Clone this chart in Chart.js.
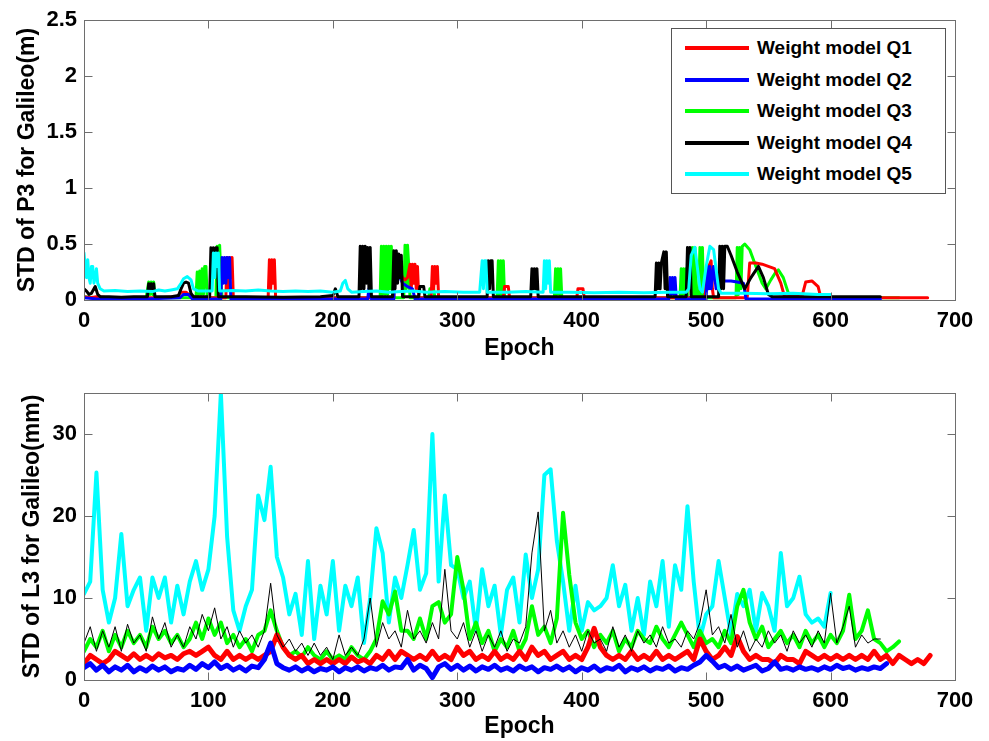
<!DOCTYPE html>
<html><head><meta charset="utf-8">
<script src="https://cdn.jsdelivr.net/npm/chart.js@4.4.1/dist/chart.umd.min.js"></script>
<style>
html,body{margin:0;padding:0;background:#fff;width:989px;height:741px;overflow:hidden;}
.wrap{position:absolute;left:0;}
#legend{position:absolute;left:671px;top:28px;width:273px;height:164px;border:1px solid #555;background:#fff;font:bold 19px "Liberation Sans",Arial,sans-serif;color:#000;}
.lrow{position:absolute;left:0;width:273px;height:24px;}
.lline{position:absolute;left:13px;top:10px;width:64px;height:4px;}
.ltext{position:absolute;left:85px;top:0;line-height:24px;white-space:nowrap;}
</style></head>
<body>
<div class="wrap" style="top:0"><canvas id="c1" width="989" height="360"></canvas></div>
<div class="wrap" style="top:360px"><canvas id="c2" width="989" height="381"></canvas></div>
<div id="legend"></div>
<script>
// ---------- data ----------
const seriesNames = ['Weight model Q1','Weight model Q2','Weight model Q3','Weight model Q4','Weight model Q5'];
const seriesColors = ['#ff0000','#0000ff','#00ff00','#000000','#00ffff'];
const xTicks = [0,100,200,300,400,500,600,700];
const p3Ticks = [0,0.5,1,1.5,2,2.5];
const l3Ticks = [0,10,20,30];
const epochStep = 5;

// Top panel: STD of P3 (m), [epoch, value] pairs
const p3Q1 = [[0,0.03],[5,0.02],[10,0.03],[20,0.02],[40,0.02],[60,0.02],[75,0.03],[78,0.07],[82,0.07],[86,0.03],[100,0.02],[114,0.02],[115,0.38],[116,0.1],[117,0.38],[118,0.2],[119,0.38],[120,0.02],[148,0.02],[149,0.36],[150,0.1],[151,0.36],[152,0.15],[153,0.36],[154,0.02],[200,0.02],[249,0.02],[250,0.36],[252,0.3],[254,0.25],[256,0.2],[258,0.18],[260,0.2],[262,0.32],[263,0.1],[264,0.32],[265,0.15],[266,0.32],[267,0.1],[268,0.3],[269,0.02],[279,0.02],[280,0.3],[281,0.1],[282,0.3],[283,0.15],[284,0.3],[285,0.02],[337,0.02],[338,0.12],[341,0.12],[342,0.02],[396,0.02],[397,0.1],[401,0.1],[402,0.02],[499,0.02],[500,0.15],[502,0.3],[504,0.35],[505,0.1],[506,0.02],[533,0.02],[535,0.33],[540,0.33],[545,0.32],[550,0.3],[555,0.28],[560,0.15],[563,0.03],[577,0.03],[580,0.16],[585,0.17],[590,0.12],[592,0.03],[600,0.02],[640,0.02],[660,0.02],[678,0.02]];
const p3Q2 = [[0,0.02],[10,0.01],[50,0.01],[77,0.02],[80,0.05],[84,0.05],[87,0.01],[110,0.01],[111,0.38],[112,0.15],[113,0.38],[114,0.15],[115,0.38],[116,0.2],[117,0.38],[118,0.01],[228,0.01],[229,0.1],[231,0.01],[249,0.01],[250,0.37],[252,0.3],[254,0.2],[256,0.15],[260,0.12],[264,0.1],[266,0.01],[470,0.01],[471,0.2],[472,0.05],[473,0.2],[474,0.05],[475,0.2],[476,0.01],[500,0.01],[501,0.3],[502,0.1],[503,0.3],[504,0.1],[506,0.3],[508,0.1],[512,0.17],[516,0.17],[520,0.17],[525,0.16],[530,0.15],[532,0.01],[640,0.01]];
const p3Q3 = [[0,0.03],[10,0.02],[50,0.02],[52,0.16],[53,0.05],[54,0.16],[55,0.05],[56,0.16],[57,0.02],[90,0.02],[91,0.25],[92,0.05],[93,0.26],[94,0.05],[95,0.28],[96,0.05],[97,0.3],[98,0.3],[99,0.02],[106,0.02],[107,0.48],[108,0.1],[109,0.49],[110,0.2],[111,0.02],[238,0.02],[239,0.48],[240,0.05],[241,0.48],[242,0.05],[243,0.48],[244,0.05],[245,0.48],[246,0.1],[247,0.48],[248,0.02],[257,0.02],[258,0.49],[259,0.1],[260,0.49],[261,0.3],[262,0.02],[277,0.02],[278,0.1],[281,0.1],[282,0.02],[332,0.02],[333,0.35],[334,0.05],[335,0.35],[336,0.05],[337,0.35],[338,0.02],[378,0.02],[379,0.28],[380,0.05],[381,0.28],[382,0.05],[383,0.28],[384,0.02],[479,0.02],[480,0.28],[481,0.05],[482,0.28],[483,0.05],[484,0.28],[485,0.02],[488,0.02],[489,0.47],[490,0.05],[491,0.47],[492,0.02],[494,0.02],[495,0.47],[496,0.05],[497,0.47],[498,0.02],[524,0.02],[525,0.47],[526,0.05],[527,0.47],[528,0.1],[529,0.48],[531,0.5],[535,0.45],[540,0.3],[545,0.15],[548,0.1],[552,0.18],[556,0.25],[558,0.27],[562,0.2],[567,0.03],[600,0.02],[655,0.02]];
const p3Q4 = [[0,0.1],[2,0.08],[4,0.05],[6,0.06],[8,0.1],[9,0.12],[11,0.05],[13,0.03],[20,0.03],[30,0.025],[40,0.03],[51,0.03],[52,0.146],[53,0.1],[54,0.146],[55,0.1],[56,0.146],[57,0.03],[70,0.03],[76,0.04],[78,0.1],[80,0.15],[82,0.16],[84,0.15],[86,0.06],[88,0.03],[101,0.03],[102,0.466],[103,0.2],[104,0.466],[105,0.3],[106,0.466],[107,0.466],[108,0.03],[130,0.03],[160,0.025],[190,0.03],[200,0.04],[202,0.1],[204,0.03],[221,0.03],[222,0.48],[223,0.1],[224,0.48],[225,0.1],[226,0.48],[227,0.15],[228,0.47],[229,0.1],[230,0.47],[231,0.03],[248,0.03],[249,0.44],[250,0.1],[251,0.44],[252,0.15],[253,0.41],[254,0.2],[255,0.4],[256,0.03],[269,0.03],[270,0.12],[273,0.12],[274,0.03],[324,0.03],[325,0.35],[326,0.1],[327,0.35],[328,0.35],[329,0.03],[359,0.03],[360,0.28],[361,0.1],[362,0.28],[363,0.1],[364,0.28],[365,0.03],[400,0.03],[440,0.03],[459,0.03],[460,0.33],[461,0.1],[462,0.33],[463,0.1],[464,0.33],[466,0.43],[467,0.1],[468,0.43],[469,0.03],[484,0.03],[485,0.47],[486,0.1],[487,0.47],[488,0.03],[510,0.03],[511,0.48],[512,0.1],[513,0.48],[514,0.1],[515,0.48],[517,0.48],[520,0.4],[525,0.25],[531,0.1],[536,0.2],[542,0.3],[546,0.2],[550,0.05],[553,0.03],[600,0.03],[640,0.03]];
const p3Q5 = [[0,0.42],[1,0.3],[2,0.2],[3,0.36],[4,0.2],[5,0.15],[6,0.3],[7,0.3],[8,0.15],[9,0.2],[10,0.28],[11,0.15],[13,0.1],[16,0.08],[25,0.085],[35,0.075],[45,0.08],[55,0.075],[60,0.09],[65,0.08],[70,0.09],[75,0.1],[78,0.15],[80,0.19],[83,0.21],[86,0.18],[88,0.1],[92,0.08],[100,0.08],[103,0.08],[104,0.42],[105,0.2],[106,0.42],[107,0.3],[108,0.42],[109,0.08],[120,0.085],[130,0.08],[140,0.09],[150,0.08],[160,0.075],[170,0.08],[180,0.075],[190,0.08],[200,0.07],[206,0.08],[208,0.15],[210,0.175],[212,0.1],[215,0.07],[225,0.075],[235,0.08],[245,0.07],[255,0.075],[265,0.08],[275,0.07],[290,0.075],[305,0.07],[318,0.07],[320,0.35],[321,0.1],[322,0.35],[323,0.35],[324,0.07],[340,0.07],[355,0.075],[369,0.07],[370,0.35],[371,0.1],[372,0.35],[373,0.15],[374,0.35],[375,0.07],[390,0.07],[410,0.065],[430,0.07],[450,0.065],[470,0.07],[484,0.07],[486,0.1],[488,0.4],[491,0.47],[495,0.1],[497,0.07],[500,0.3],[503,0.48],[506,0.45],[510,0.1],[512,0.06],[530,0.06],[550,0.055],[570,0.06],[590,0.05],[600,0.05]];

// Bottom panel: STD of L3 (mm), one value every epochStep epochs starting at 0
const l3Q1 = [2,3,2.5,2,2.5,3.5,3,2.5,3.2,2.5,
 3,2.5,3.2,2.7,3,2.5,3.2,3.5,3,3.5,
 4,3,2.5,3.5,2.5,3,2.5,3,2.5,3,
 3.5,5.5,4,3,2.5,3,2,2.5,2,2.5,
 2,2.5,2,2.8,2.2,2.5,2,3,2.5,3.5,
 2.5,3.5,3,2.5,3,2.5,3.5,2.5,3,2.5,
 4,3,3.5,2.5,3,2.5,3.5,2.5,3,2.5,
 3.5,2.5,4,3,3.5,2.5,3,3.5,2.5,3,
 2.5,4,6.3,4,3,2.5,3,2.5,3.5,2.5,
 3,2.5,3.5,2.5,3,2.5,3,3.5,2.5,5,
 3.5,2.5,3,4,3,5.3,3.5,2.5,3,2.5,
 2.5,2,3,2.5,2.5,2,3.5,3,2.5,3,
 2.5,3,2.5,3,2.5,3,2.5,3.5,2.5,3,
 2,3,2.5,2,2.5,2,3];
const l3Q2 = [1.5,2,1.2,1.8,1,1.6,1.2,1.8,1,1.5,
 1.1,1.7,1.2,1.6,1,1.4,1.2,1.8,1.3,2,
 1.5,2.2,1.4,1.8,1.2,1.6,1.1,1.7,1.5,2.5,
 4.5,2,1.5,1.2,1.6,1.1,1.5,1,1.4,1.2,
 1.6,1,1.5,1.2,1.6,1.1,1.5,1.3,1.8,1.2,
 1.6,1.5,2.5,1.2,1.8,1.4,0.3,1.6,2,1.3,
 1.8,1.2,1.7,1.1,1.6,1.3,1.8,1.2,1.5,1.1,
 1.7,1.3,1.6,1,1.5,1.3,1.7,1.2,1.6,1,
 1.5,1.2,1.7,1.1,1.5,1.3,1.8,1,1.5,1.2,
 1.6,1.1,1.5,1.3,1.7,1.1,1.5,1.3,1.8,2.2,
 3,2.3,1.5,1.8,1.3,1.7,1.2,1.5,1.8,1.1,
 1.4,2.2,1.3,1.5,1.2,1.6,1.3,1.5,1.2,1.6,
 1.3,1.8,1.4,1.6,1.2,1.5,1.3,1.6,1.4,2];
const l3Q3 = [3.5,5,4,6,3.5,5.5,4,6,4.5,5.5,
 4,6.5,5,6,4.5,5.5,4,5,7,5,
 7.5,5.5,7,4.5,5.5,4,5,3.5,5.5,6,
 8.5,6,4,3,3.5,2.8,4,3,2.5,3.5,
 2.5,3,2.5,4,3,2.5,3.5,5,9.6,8,
 10.8,6,6,5,7.5,5,9,9.5,7,8,
 15,11,5,7,4.5,6,3.5,5,4,6,
 3.5,5,9,5.5,6.5,4.5,7.5,20.4,12.8,7,
 5,6,4,5.5,4.5,6,3.5,5,4,6,
 5,4.5,6.5,5,4,5.5,7,5.5,4,6,
 4.5,5,4,6,4.5,9,11,7,5,6.5,
 4,5,6,4.5,5.5,4,6,4.5,5.5,4,
 5.5,4.5,6,10.4,5,6,8.5,5,4.5,3.5,
 4,4.7];
const l3Q4 = [4.5,6.5,3.5,6,4,6.5,3.5,6.8,4.5,5.5,
 3.5,7.7,5,7,4,5.5,4,6.5,5,8,
 6,8.8,5,6.5,4,6,4.5,5.5,4,6,
 11.8,5.5,4,5,3.5,4.5,3,4.5,3,4,
 2.5,5.5,3,4,3,5,10,4,7,5,
 6,4,8.5,5,6,4.5,7,5,13.5,6,
 5,7,4,6,3.5,5.5,4,6,3.5,5,
 4.5,6.5,15.5,20.5,6,8.5,4.5,6,4,5.5,
 3.5,6,4.5,5,3.5,6.5,4,5.5,3.5,6,
 4.5,5.5,4,6.5,4.5,5,4,6,5,7,
 11,5.5,6.5,4.5,8,4,6,3.5,5,4,
 6,4.5,5.5,3.5,6,4.5,5.5,4,6,4.5,
 10.6,4.5,6.5,9,4,5.5,4.5,5,5];
const l3Q5 = [10.5,12,25.3,11,7,10,17.8,9,11,12.5,
 6,12.5,10,12.5,7,11.5,8,12,14.5,11,
 13.5,20,35,17.5,8.5,6,9,11,22.5,19.5,
 26,15,12.5,8,10.5,5.5,14.5,5,11.5,8,
 14.5,6,11.5,9,12.5,4.5,10,18.5,15.5,7,
 12.5,10,14,18.3,11,13,30,12,22.5,14,
 13.5,10,12,6,13.5,9,11.5,5.5,11,12.5,
 7,15.3,10,13.5,25,25.7,17,12,6,11.5,
 6,9.5,8.5,9,10,14,9,11.6,6,10,
 5.5,12,9,14.5,6.5,14,11,21.2,12,5,
 8,9,14.5,10,5.5,10.5,9,11,6,10.6,
 9,6,15.5,9,10,12.6,8,7,7.5,6.5,
 10.6];

// ---------- drawing ----------
const FONT = '"Liberation Sans", Arial, Helvetica, sans-serif';

const framePlugin = {
  id: 'frame',
  afterDatasetsDraw(chart) {
    const {ctx, chartArea: a} = chart;
    const x = chart.scales.x, y = chart.scales.y;
    ctx.save();
    ctx.strokeStyle = '#6e6e6e';
    ctx.lineWidth = 1;
    const l = Math.round(a.left) + 0.5, r = Math.round(a.right) + 0.5;
    const t = Math.round(a.top) + 0.5, b = Math.round(a.bottom) + 0.5;
    ctx.strokeRect(l, t, r - l, b - t);
    const L = 8;
    ctx.beginPath();
    x.ticks.forEach(tk => {
      const px = Math.round(x.getPixelForValue(tk.value)) + 0.5;
      if (px <= l + 1 || px >= r - 1) return;
      ctx.moveTo(px, b); ctx.lineTo(px, b - L);
      ctx.moveTo(px, t); ctx.lineTo(px, t + L);
    });
    y.ticks.forEach(tk => {
      const py = Math.round(y.getPixelForValue(tk.value)) + 0.5;
      if (py <= t + 1 || py >= b - 1) return;
      ctx.moveTo(l, py); ctx.lineTo(l + L, py);
      ctx.moveTo(r, py); ctx.lineTo(r - L, py);
    });
    ctx.stroke();
    ctx.restore();
  }
};

function makeOptions(cfg) {
  return {
    responsive: false,
    animation: false,
    events: [],
    layout: {padding: {top: cfg.padTop, right: 34, left: 0, bottom: 0}},
    plugins: {legend: {display: false}, tooltip: {enabled: false}},
    elements: {point: {radius: 0}, line: {tension: 0, borderJoinStyle: 'round', borderCapStyle: 'round'}},
    scales: {
      x: {
        type: 'linear', min: 0, max: 700,
        afterBuildTicks: s => { s.ticks = xTicks.map(v => ({value: v})); },
        afterFit: s => { s.height = cfg.xAxisH; },
        grid: {display: false, drawTicks: false},
        border: {display: false},
        ticks: {padding: 8, color: '#000', font: {family: FONT, size: 22, weight: 'bold'}, maxRotation: 0, callback: v => String(v)},
        title: {display: true, text: 'Epoch', color: '#000', font: {family: FONT, size: 23, weight: 'bold', lineHeight: 1}, padding: {top: 0, bottom: cfg.xTitlePad}}
      },
      y: {
        type: 'linear', min: cfg.yMin, max: cfg.yMax,
        afterBuildTicks: s => { s.ticks = cfg.yTicks.map(v => ({value: v})); },
        afterFit: s => { s.width = 84; },
        grid: {display: false, drawTicks: false},
        border: {display: false},
        ticks: {padding: 7, color: '#000', font: {family: FONT, size: 22, weight: 'bold'}, callback: v => String(v)},
        title: {display: true, text: cfg.yTitle, color: '#000', font: {family: FONT, size: 23, weight: 'bold', lineHeight: 1}, padding: {top: cfg.yTitlePad, bottom: 0}}
      }
    }
  };
}

function ds(label, color, points, width, order) {
  return {label, data: points, borderColor: color, backgroundColor: color, borderWidth: width, fill: false, order, pointRadius: 0};
}
const pairs = arr => arr.map(p => ({x: p[0], y: p[1]}));
const stepped = arr => arr.map((v, i) => ({x: i * epochStep, y: v}));

new Chart(document.getElementById('c1'), {
  type: 'line',
  data: {datasets: [
    ds(seriesNames[4], seriesColors[4], pairs(p3Q5), 3, 0),
    ds(seriesNames[3], seriesColors[3], pairs(p3Q4), 3, 1),
    ds(seriesNames[1], seriesColors[1], pairs(p3Q2), 3, 2),
    ds(seriesNames[0], seriesColors[0], pairs(p3Q1), 3, 3),
    ds(seriesNames[2], seriesColors[2], pairs(p3Q3), 3, 4)
  ]},
  options: makeOptions({padTop: 14, xAxisH: 60, xTitlePad: 0, yMin: 0, yMax: 2.5, yTicks: p3Ticks, yTitle: 'STD of P3 for Galileo(m)', yTitlePad: 16}),
  plugins: [framePlugin]
});

new Chart(document.getElementById('c2'), {
  type: 'line',
  data: {datasets: [
    ds(seriesNames[3], seriesColors[3], stepped(l3Q4), 1, 0),
    ds(seriesNames[1], seriesColors[1], stepped(l3Q2), 5, 1),
    ds(seriesNames[0], seriesColors[0], stepped(l3Q1), 5, 2),
    ds(seriesNames[2], seriesColors[2], stepped(l3Q3), 4, 3),
    ds(seriesNames[4], seriesColors[4], stepped(l3Q5), 4, 4)
  ]},
  options: makeOptions({padTop: 33, xAxisH: 61, xTitlePad: 3, yMin: 0, yMax: 35, yTicks: l3Ticks, yTitle: 'STD of L3 for Galileo(mm)', yTitlePad: 21}),
  plugins: [framePlugin]
});

// legend (HTML text)
const legend = document.getElementById('legend');
seriesNames.forEach((name, i) => {
  const row = document.createElement('div');
  row.className = 'lrow';
  row.style.top = (7 + i * 31.6) + 'px';
  const line = document.createElement('div');
  line.className = 'lline';
  line.style.background = seriesColors[i];
  const txt = document.createElement('div');
  txt.className = 'ltext';
  txt.textContent = name;
  row.appendChild(line); row.appendChild(txt);
  legend.appendChild(row);
});
</script>
</body></html>
